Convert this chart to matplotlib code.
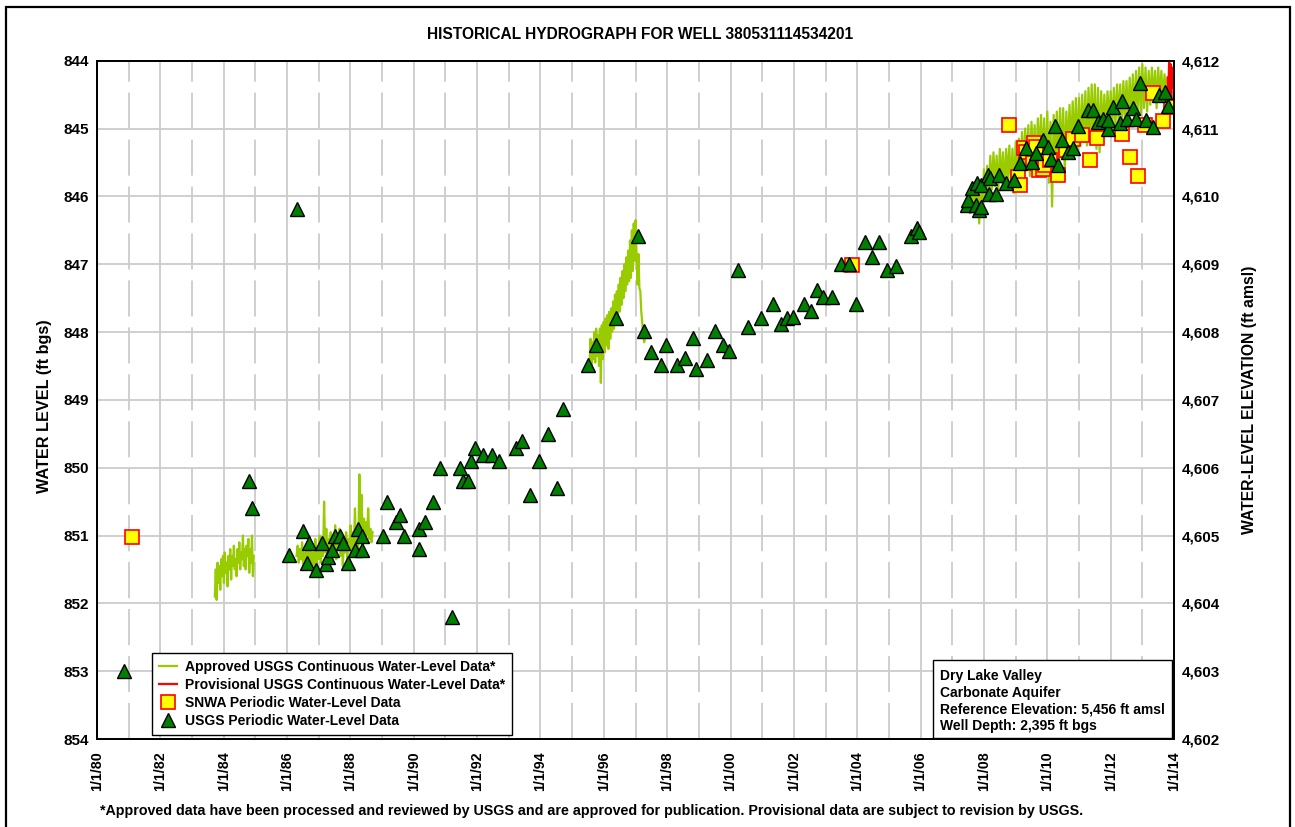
import matplotlib.pyplot as plt
import numpy as np
from matplotlib.patches import Rectangle
from matplotlib.ticker import FuncFormatter, MultipleLocator
from matplotlib.lines import Line2D

plt.rcParams['font.family'] = ['Liberation Sans', 'DejaVu Sans']
plt.rcParams['font.weight'] = 'bold'

ref_elev = 5456

# continuous recorder data (ft bgs), start / end in decimal years
cont1_span = (1983.72, 1984.95)
cont1 = [851.90, 851.50, 851.95, 851.40, 851.70, 851.45, 851.80, 851.35, 851.60, 851.30,
         851.70, 851.25, 851.55, 851.40, 851.75, 851.30, 851.50, 851.20, 851.65, 851.30,
         851.45, 851.15, 851.50, 851.35, 851.60, 851.20, 851.40, 851.10, 851.50, 851.25,
         851.35, 851.00, 851.45, 851.20, 851.50, 851.15, 851.30, 851.05, 851.55, 851.20,
         851.40, 851.00, 851.60, 851.30]

cont2_span = (1986.30, 1988.70)
cont2 = [851.30, 851.15, 851.40, 851.20, 851.35, 851.10, 851.45, 851.25, 851.40, 851.15,
         851.50, 851.20, 851.45, 851.10, 851.55, 851.25, 851.60, 851.05, 851.45, 851.20,
         851.35, 851.00, 851.40, 851.15, 851.30, 850.50, 851.25, 850.90, 851.35, 851.05,
         851.30, 850.95, 851.40, 851.10, 851.25, 850.85, 851.35, 851.00, 851.20, 850.90,
         851.30, 851.05, 851.45, 851.10, 851.25, 850.95, 851.35, 851.05, 851.20, 850.85,
         851.30, 850.95, 851.15, 850.60, 851.25, 851.10, 851.20, 850.10, 851.10, 850.40,
         851.15, 850.75, 851.05, 850.80, 851.00, 850.60, 851.05, 850.90, 851.10, 850.95]

cont3_span = (1995.55, 1997.30)
cont3 = [848.45, 848.10, 848.50, 848.15, 848.40, 848.00, 848.45, 847.95, 848.35, 848.05,
         848.50, 847.95, 848.75, 847.90, 848.40, 847.85, 848.30, 847.80, 848.20, 847.75,
         848.25, 847.70, 848.10, 847.65, 848.00, 847.55, 847.95, 847.45, 847.85, 847.40,
         847.75, 847.30, 847.70, 847.20, 847.60, 847.10, 847.50, 847.00, 847.40, 846.90,
         847.30, 846.80, 847.25, 846.65, 847.20, 846.50, 847.10, 846.40, 846.95, 846.35,
         846.90, 847.30, 846.85, 847.35, 847.40, 847.70, 847.85, 848.05, 848.15, 848.10]

cont4_span = (2007.45, 2013.80)
cont4 = [846.20, 845.95, 846.25, 845.85, 846.15, 845.80, 846.30, 845.75, 846.40, 845.85,
         846.10, 845.60, 846.00, 845.55, 845.95, 845.40, 845.90, 845.35, 845.85, 845.40,
         845.95, 845.30, 845.80, 845.35, 845.90, 845.30, 845.75, 845.25, 845.85, 845.30,
         845.95, 845.20, 845.70, 845.15, 845.65, 845.05, 845.60, 845.00, 845.55, 844.95,
         845.70, 844.90, 845.50, 844.95, 845.60, 844.85, 845.45, 844.80, 845.55, 844.85,
         845.65, 844.75, 845.80, 844.90, 846.15, 844.80, 845.50, 844.75, 845.55, 844.70,
         845.45, 844.70, 845.60, 844.75, 845.40, 844.65, 845.35, 844.60, 845.30, 844.55,
         845.35, 844.55, 845.25, 844.50, 845.20, 844.45, 845.25, 844.40, 845.15, 844.35,
         845.20, 844.35, 845.30, 844.40, 845.35, 844.45, 845.10, 844.50, 845.05, 844.45,
         844.95, 844.45, 845.00, 844.40, 844.95, 844.35, 844.90, 844.35, 844.95, 844.30,
         844.85, 844.30, 844.90, 844.25, 844.80, 844.20, 844.85, 844.15, 844.75, 844.10,
         844.80, 844.05, 844.70, 844.10, 844.75, 844.15, 844.65, 844.10, 844.60, 844.15,
         844.70, 844.10, 844.55, 844.15, 844.60, 844.20, 844.50, 844.25]

prov_span = (2013.80, 2014.00)
prov = [844.25, 844.50, 844.00, 844.60, 844.05, 844.55, 844.10, 844.40, 844.15, 844.30]

# periodic measurements
usgs_t = [1980.85, 1984.80, 1984.90, 1986.06, 1986.31, 1986.51, 1986.62, 1986.69, 1986.92, 1987.09,
          1987.23, 1987.28, 1987.43, 1987.51, 1987.67, 1987.77, 1987.93, 1988.14, 1988.25, 1988.36,
          1988.38, 1989.02, 1989.14, 1989.43, 1989.56, 1989.69, 1990.17, 1990.17, 1990.37, 1990.61,
          1990.84, 1991.21, 1991.45, 1991.56, 1991.71, 1991.82, 1991.93, 1992.19, 1992.46, 1992.69,
          1993.24, 1993.43, 1993.68, 1993.95, 1994.23, 1994.51, 1994.71, 1995.51, 1995.75, 1996.38,
          1997.07, 1997.26, 1997.48, 1997.80, 1997.95, 1998.32, 1998.56, 1998.81, 1998.92, 1999.26,
          1999.52, 1999.77, 1999.95, 2000.25, 2000.55, 2000.96, 2001.34, 2001.59, 2001.77, 2001.97,
          2002.31, 2002.55, 2002.73, 2002.91, 2003.21, 2003.48, 2003.74, 2003.96, 2004.23, 2004.46,
          2004.70, 2004.94, 2005.23, 2005.71, 2005.87, 2005.95,
          2007.45, 2007.50, 2007.61, 2007.74, 2007.77, 2007.85, 2007.90, 2007.92, 2008.13, 2008.18,
          2008.16, 2008.37, 2008.47, 2008.71, 2008.94, 2009.15, 2009.34, 2009.53, 2009.63, 2009.87,
          2010.03, 2010.13, 2010.24, 2010.34, 2010.46, 2010.64, 2010.81, 2010.98, 2011.27, 2011.45,
          2011.61, 2011.77, 2011.93, 2011.93, 2012.06, 2012.29, 2012.37, 2012.53, 2012.71, 2012.81,
          2012.94, 2013.11, 2013.34, 2013.53, 2013.71, 2013.82]
usgs_v = [853.00, 850.20, 850.60, 851.28, 846.18, 850.94, 851.41, 851.11, 851.51, 851.11,
          851.42, 851.32, 851.21, 851.01, 851.01, 851.11, 851.41, 851.21, 850.91, 851.22,
          851.01, 851.01, 850.50, 850.80, 850.70, 851.00, 850.91, 851.20, 850.80, 850.50,
          850.00, 852.20, 850.00, 850.20, 850.20, 849.90, 849.71, 849.81, 849.81, 849.90,
          849.71, 849.60, 850.40, 849.90, 849.50, 850.30, 849.14, 848.49, 848.19, 847.79,
          846.59, 847.99, 848.29, 848.49, 848.19, 848.49, 848.39, 848.09, 848.54, 848.41,
          847.98, 848.19, 848.28, 847.09, 847.92, 847.79, 847.59, 847.88, 847.79, 847.78,
          847.59, 847.69, 847.38, 847.49, 847.49, 846.99, 846.99, 847.59, 846.68, 846.89,
          846.68, 847.09, 847.03, 846.59, 846.46, 846.52,
          846.13, 846.05, 845.88, 846.13, 845.81, 846.20, 845.83, 846.15, 845.69, 845.73,
          845.96, 845.96, 845.69, 845.81, 845.76, 845.51, 845.29, 845.49, 845.36, 845.17,
          845.27, 845.45, 844.97, 845.54, 845.17, 845.34, 845.28, 844.96, 844.73, 844.73,
          844.90, 844.86, 845.00, 844.88, 844.68, 844.92, 844.60, 844.86, 844.70, 844.86,
          844.33, 844.87, 844.98, 844.51, 844.46, 844.67]

snwa_t = [1981.10, 2003.83, 2008.78, 2009.06, 2009.14, 2009.26, 2009.34, 2009.55, 2009.58, 2009.65,
          2009.74, 2009.86, 2009.92, 2010.08, 2010.33, 2010.60, 2010.80, 2011.11, 2011.34, 2011.58,
          2012.35, 2012.61, 2012.87, 2013.08, 2013.34, 2013.66, 2013.89]
snwa_v = [851.02, 847.01, 844.95, 845.72, 845.83, 845.29, 845.34, 845.51, 845.22, 845.27,
          845.61, 845.59, 845.54, 845.46, 845.69, 845.32, 845.16, 845.10, 845.47, 845.14,
          845.08, 845.42, 845.70, 844.95, 844.48, 844.89, 844.68]

green = '#99cc00'

fig = plt.figure(figsize=(12.95, 8.27), dpi=100)
ax = fig.add_axes([0.0749, 0.1064, 0.8317, 0.8202])

for span, vals in [(cont1_span, cont1), (cont2_span, cont2), (cont3_span, cont3), (cont4_span, cont4)]:
    t = np.linspace(span[0], span[1], len(vals))
    ax.plot(t, vals, color=green, lw=1.6, zorder=2)
t = np.linspace(prov_span[0], prov_span[1], len(prov))
ax.plot(t, prov, color='red', lw=1.6, zorder=2)

ax.plot(snwa_t, snwa_v, ls='none', marker='s', ms=10, mfc='yellow', mec='red', mew=1.2, zorder=3)
ax.plot(usgs_t, usgs_v, ls='none', marker='^', ms=10, mfc='#008000', mec='black', mew=1, zorder=4)

ax.set_xlim(1980, 2014)
ax.set_ylim(854, 844)
ax.xaxis.set_major_locator(MultipleLocator(2))
ax.xaxis.set_minor_locator(MultipleLocator(1))
ax.xaxis.set_major_formatter(FuncFormatter(lambda v, p: '1/1/%02d' % (int(round(v)) % 100)))
ax.yaxis.set_major_locator(MultipleLocator(1))
ax.tick_params(axis='x', which='both', length=0, pad=9, labelsize=10.3, rotation=90)
ax.tick_params(axis='y', length=0, pad=5.5, labelsize=11)
ax.set_axisbelow(True)
ax.grid(which='major', axis='both', color='#cccccc', lw=1.3)
ax.grid(which='minor', axis='x', color='#cccccc', lw=1.3, linestyle=(0, (20, 6)))
for s in ax.spines.values():
    s.set_linewidth(1.3)

ax2 = ax.twinx()
ax2.set_ylim(ref_elev - 854, ref_elev - 844)
ax2.yaxis.set_major_locator(MultipleLocator(1))
ax2.yaxis.set_major_formatter(FuncFormatter(lambda v, p: '{:,.0f}'.format(v)))
ax2.tick_params(axis='y', length=0, pad=5.5, labelsize=11)
for s in ax2.spines.values():
    s.set_linewidth(1.3)

handles = [Line2D([], [], color=green, lw=1.6),
           Line2D([], [], color='red', lw=1.6),
           Line2D([], [], ls='none', marker='s', ms=10, mfc='yellow', mec='red', mew=1.2),
           Line2D([], [], ls='none', marker='^', ms=10, mfc='#008000', mec='black', mew=1)]
labels = ['Approved USGS Continuous Water-Level Data*',
          'Provisional USGS Continuous Water-Level Data*',
          'SNWA Periodic Water-Level Data',
          'USGS Periodic Water-Level Data']
leg = ax2.legend(handles, labels, loc='lower left', bbox_to_anchor=(0.051, 0.006), fontsize=10,
                 frameon=True, fancybox=False, framealpha=1, edgecolor='black', handlelength=1.3,
                 labelspacing=0.28, borderpad=0.5, handletextpad=0.6, borderaxespad=0)
leg.get_frame().set_linewidth(1.0)

ax2.add_patch(Rectangle((0.776, 0.0015), 0.2225, 0.115, transform=ax2.transAxes,
                        facecolor='white', edgecolor='black', lw=1.0, zorder=5))
ax2.text(0.783, 0.056, 'Dry Lake Valley\nCarbonate Aquifer\nReference Elevation: 5,456 ft amsl\n'
         'Well Depth: 2,395 ft bgs', transform=ax2.transAxes, fontsize=10, va='center',
         ha='left', linespacing=1.25, zorder=6)

fig.text(0.494, 0.958, 'HISTORICAL HYDROGRAPH FOR WELL 380531114534201', ha='center',
         va='center', fontsize=11.2)
fig.text(0.0347, 0.509, 'WATER LEVEL (ft bgs)', rotation=90, ha='center', va='center', fontsize=11.7)
fig.text(0.965, 0.5167, 'WATER-LEVEL ELEVATION (ft amsl)', rotation=90, ha='center', va='center',
         fontsize=11.3)
fig.text(0.457, 0.019, '*Approved data have been processed and reviewed by USGS and are approved '
         'for publication. Provisional data are subject to revision by USGS.', ha='center',
         va='center', fontsize=10.3)

fig.patches.append(Rectangle((0.0046, -0.02), 0.9915, 1.0115, transform=fig.transFigure,
                             fill=False, edgecolor='black', lw=1.6))

fig.savefig('out.png', dpi=100)
